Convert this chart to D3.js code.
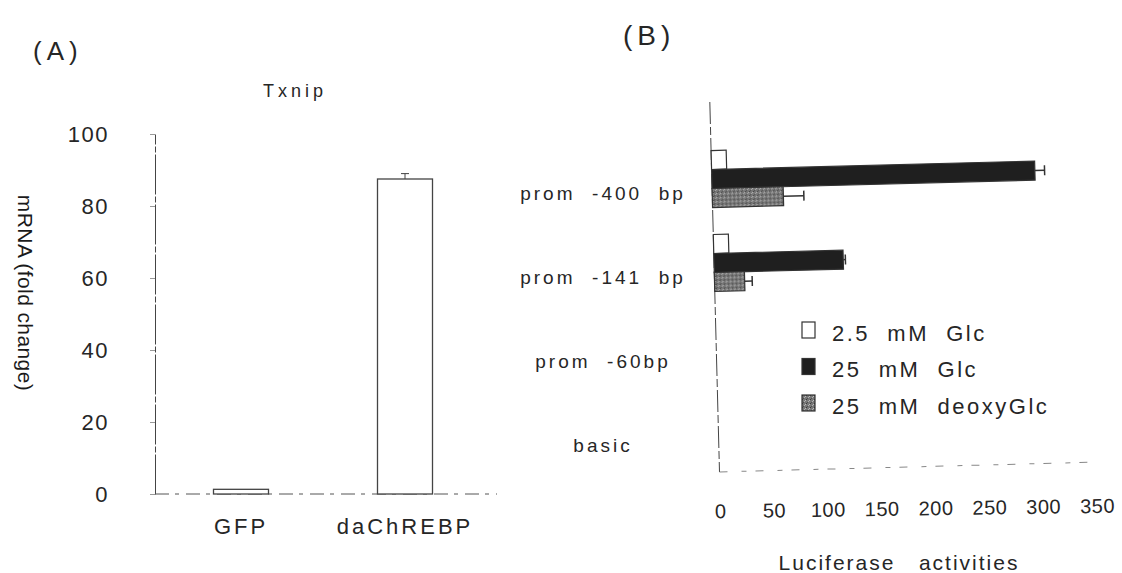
<!DOCTYPE html>
<html>
<head>
<meta charset="utf-8">
<script src="https://cdn.jsdelivr.net/npm/d3@7"></script>
<style>
    body { margin: 0; background: #fff; }
    svg text { font-family: "Liberation Sans", Arial, sans-serif; fill: #262626; white-space: pre; }
</style>
</head>
<body>
<svg id="chart" width="1122" height="573"></svg>
<script>
/**
 * Data, panel A (Txnip mRNA).
 */
const txnipGroups = ['GFP', 'daChREBP'];
const txnipValues = [1.3, 87.5];
const txnipErrors = [0, 1.5];
const txnipTicks = [0, 20, 40, 60, 80, 100];

/**
 * Data, panel B (luciferase).
 */
const constructs = ['prom  -400  bp', 'prom  -141  bp', 'prom  -60bp', 'basic'];
const seriesNames = ['2.5  mM  Glc', '25  mM  Glc', '25  mM  deoxyGlc'];
const lowGlc = [14, 14, 0, 0];
const highGlc = [300, 120, 0, 0];
const deoxyGlc = [66, 28, 0, 0];
const lowGlcErr = [0, 0, 0, 0];
const highGlcErr = [9, 2, 0, 0];
const deoxyGlcErr = [19, 7, 0, 0];
const luciferaseTicks = [0, 50, 100, 150, 200, 250, 300, 350];

const seriesValues = [lowGlc, highGlc, deoxyGlc],
    seriesErrors = [lowGlcErr, highGlcErr, deoxyGlcErr],
    seriesFills = ['#fff', '#1f1f1f', 'url(#stipple)'];

const svg = d3.select('#chart');
const ink = '#333';

// Stippled fill for the deoxyGlc bars
const pattern = svg.append('defs').append('pattern')
    .attr('id', 'stipple')
    .attr('patternUnits', 'userSpaceOnUse')
    .attr('width', 4).attr('height', 4);
pattern.append('rect').attr('width', 4).attr('height', 4).attr('fill', '#777');
[[0, 0, '#3a3a3a'], [2, 2, '#b0b0b0'], [1, 3, '#505050'], [3, 1, '#bdbdbd']].forEach(p => {
    pattern.append('rect').attr('x', p[0]).attr('y', p[1]).attr('width', 1).attr('height', 1).attr('fill', p[2]);
});

/**
 * Panel A.
 */
const panelA = svg.append('g').attr('class', 'panel-a');
const yA = d3.scaleLinear().domain([0, 100]).range([494, 134]),
    xA = d3.scalePoint().domain(txnipGroups).range([241, 405]),
    barWidthA = 55,
    axisXA = 155;

panelA.append('text').attr('x', 33).attr('y', 60)
    .attr('font-size', 26).attr('letter-spacing', 5).text('(A)');
panelA.append('text').attr('x', 295).attr('y', 97).attr('text-anchor', 'middle')
    .attr('font-size', 18).attr('letter-spacing', 4).text('Txnip');
panelA.append('text')
    .attr('transform', 'translate(25,293) rotate(90)')
    .attr('text-anchor', 'middle').attr('dominant-baseline', 'central')
    .attr('font-size', 21).attr('letter-spacing', 0.4).style('fill', '#1a1a1a')
    .text('mRNA (fold change)');

// y axis
panelA.append('g')
    .attr('transform', 'translate(' + axisXA + ',0)')
    .call(d3.axisLeft(yA).tickValues(txnipTicks).tickSize(5).tickSizeOuter(0).tickPadding(41))
    .call(g => {
        g.select('.domain').attr('stroke', '#444').attr('stroke-dasharray', '40,2,6,2');
        g.selectAll('.tick line').attr('stroke', '#999');
        g.selectAll('.tick text').attr('font-size', 22).attr('letter-spacing', 1.5);
    });

// Baseline
panelA.append('line')
    .attr('x1', axisXA).attr('x2', 497)
    .attr('y1', yA(0)).attr('y2', yA(0))
    .attr('stroke', '#555').attr('stroke-dasharray', '14,6,4,7');

// Bars
panelA.selectAll('rect.bar').data(txnipGroups).enter().append('rect')
    .attr('class', 'bar')
    .attr('x', d => xA(d) - barWidthA / 2)
    .attr('width', barWidthA)
    .attr('y', (d, i) => yA(txnipValues[i]))
    .attr('height', (d, i) => yA(0) - yA(txnipValues[i]))
    .attr('fill', '#fff').attr('stroke', '#444').attr('stroke-width', 1.3);

// Error bars
panelA.selectAll('g.err').data(txnipGroups.filter((d, i) => txnipErrors[i] > 0)).enter().append('g')
    .attr('class', 'err')
    .each(function(d) {
        const i = txnipGroups.indexOf(d),
            g = d3.select(this),
            x = xA(d),
            top = yA(txnipValues[i] + txnipErrors[i]);
        g.append('line').attr('x1', x).attr('x2', x).attr('y1', yA(txnipValues[i])).attr('y2', top).attr('stroke', '#444');
        g.append('line').attr('x1', x - 4).attr('x2', x + 4).attr('y1', top).attr('y2', top).attr('stroke', '#444');
    });

// Category labels
panelA.selectAll('text.cat').data(txnipGroups).enter().append('text')
    .attr('class', 'cat')
    .attr('x', d => xA(d)).attr('y', 534)
    .attr('text-anchor', 'middle')
    .attr('font-size', 22).attr('letter-spacing', 3)
    .text(String);

/**
 * Panel B.
 */
const panelB = svg.append('g').attr('class', 'panel-b');
const xB = d3.scaleLinear().domain([0, 350]).range([715, 1092]),
    yB = d3.scaleBand().domain(constructs).range([137, 473]).paddingInner(0.3214).paddingOuter(0.1607),
    sB = d3.scaleBand().domain(d3.range(seriesNames.length)).range([0, yB.bandwidth()]),
    plotTopB = 102,
    plotBottomB = 472;

panelB.append('text').attr('x', 623).attr('y', 45)
    .attr('font-size', 28).attr('letter-spacing', 5).text('(B)');

// The scanned plot is slightly tilted
const plotB = panelB.append('g').attr('transform', 'rotate(-1.5,' + xB(0) + ',300)');

plotB.append('line')
    .attr('x1', xB(0)).attr('x2', xB(0))
    .attr('y1', plotTopB).attr('y2', plotBottomB)
    .attr('stroke', '#444').attr('stroke-dasharray', '22,3,8,3');
plotB.append('line')
    .attr('x1', xB(0)).attr('x2', xB(350))
    .attr('y1', plotBottomB).attr('y2', plotBottomB)
    .attr('stroke', '#888').attr('stroke-dasharray', '8,14,5,9');

// x axis tick labels, a little less tilted than the bars
panelB.append('g')
    .attr('transform', 'translate(5,504) rotate(-0.8,' + xB(0) + ',0)')
    .call(d3.axisBottom(xB).tickValues(luciferaseTicks).tickSize(0).tickPadding(0))
    .call(g => {
        g.select('.domain').remove();
        g.selectAll('.tick text').attr('font-size', 20).attr('letter-spacing', 0.5);
    });

// Bars
const barData = [];
constructs.forEach((c, i) => {
    seriesValues.forEach((vals, s) => {
        if (vals[i] > 0) barData.push({ construct: c, series: s, value: vals[i], err: seriesErrors[s][i] });
    });
});

plotB.selectAll('rect.bar').data(barData).enter().append('rect')
    .attr('class', 'bar')
    .attr('x', xB(0))
    .attr('y', d => yB(d.construct) + sB(d.series))
    .attr('width', d => xB(d.value) - xB(0))
    .attr('height', sB.bandwidth())
    .attr('fill', d => seriesFills[d.series])
    .attr('stroke', ink).attr('stroke-width', 1.2);

plotB.selectAll('g.err').data(barData.filter(d => d.err > 0)).enter().append('g')
    .attr('class', 'err')
    .each(function(d) {
        const g = d3.select(this),
            y = yB(d.construct) + sB(d.series) + sB.bandwidth() / 2,
            x2 = xB(d.value + d.err);
        g.append('line').attr('x1', xB(d.value)).attr('x2', x2).attr('y1', y).attr('y2', y).attr('stroke', ink).attr('stroke-width', 1.5);
        g.append('line').attr('x1', x2).attr('x2', x2).attr('y1', y - 5).attr('y2', y + 5).attr('stroke', ink).attr('stroke-width', 1.5);
    });

// Construct labels
panelB.selectAll('text.cat').data(constructs).enter().append('text')
    .attr('class', 'cat')
    .attr('x', 603)
    .attr('y', d => yB(d) + yB.bandwidth() / 2 + 14)
    .attr('text-anchor', 'middle').attr('dominant-baseline', 'central')
    .attr('font-size', 19).attr('letter-spacing', 3)
    .text(String);

panelB.append('text')
    .attr('x', 899).attr('y', 562)
    .attr('text-anchor', 'middle').attr('dominant-baseline', 'central')
    .attr('font-size', 21).attr('letter-spacing', 2)
    .text('Luciferase   activities');

// Legend
const legend = panelB.selectAll('g.legend').data(seriesNames).enter().append('g')
    .attr('class', 'legend')
    .attr('transform', (d, i) => 'translate(802,' + (330 + i * 36.5) + ')');
legend.append('rect')
    .attr('y', -8).attr('width', 13).attr('height', 16)
    .attr('fill', (d, i) => seriesFills[i])
    .attr('stroke', ink).attr('stroke-width', 1.2);
legend.append('text')
    .attr('x', 30).attr('y', 3)
    .attr('dominant-baseline', 'central')
    .attr('font-size', 22).attr('letter-spacing', 2.5)
    .text(String);
</script>
</body>
</html>
